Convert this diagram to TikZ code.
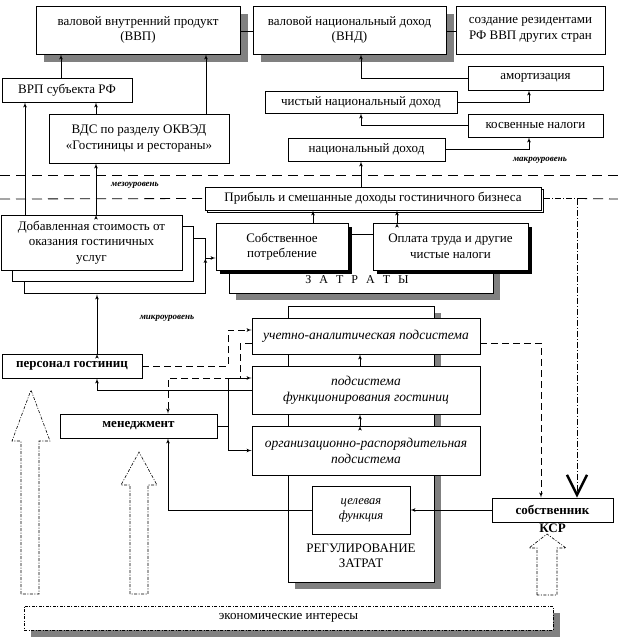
\documentclass[tikz,border=0pt]{standalone}
\usepackage{fontspec}
\setmainfont{Liberation Serif}
\usepackage{tikz}
\usetikzlibrary{arrows, arrows.meta, positioning, shapes, shadows}

\tikzset{
  box/.style={draw, fill=white, line width=0.8pt, inner sep=1pt, align=center},
  gshadow/.style={drop shadow={shadow xshift=#1, shadow yshift=-#1, fill=gray, opacity=1}},
  bshadow/.style={drop shadow={shadow xshift=4pt, shadow yshift=-4pt, fill=black, opacity=1}},
  lshadow/.style={copy shadow={shadow xshift=#1, shadow yshift=-#1, draw, fill=white}},
  txt/.style={font=\fontsize{13}{15.5}\selectfont},
  boldtxt/.style={font=\fontsize{13}{15.5}\selectfont\bfseries},
  ital/.style={font=\fontsize{13.5}{16}\selectfont\itshape},
  lvl/.style={font=\fontsize{9}{11}\selectfont\bfseries\itshape},
  arr/.style={draw, -latex', line width=0.7pt},
  dasharr/.style={arr, dash pattern=on 7pt off 4pt},
  levelline/.style={draw, line width=0.8pt, dash pattern=on 10pt off 6pt},
  finedash/.style={draw, line width=0.6pt, dash pattern=on 3pt off 1.5pt on 1pt off 1.5pt},
}

\begin{document}
\begin{tikzpicture}[x=1pt, y=-1pt]
\useasboundingbox (0,0) rectangle (618,643);

% frames behind
\node [box, minimum width=264pt, minimum height=59pt, gshadow=7pt] (zframe) at (361,263.5) {};
\node [font=\fontsize{12}{14}\selectfont] (zattxt) at (357,280) {\spaceskip=8pt\relax З А Т Р А Т Ы};
\node [box, minimum width=146pt, minimum height=276pt, gshadow=7pt] (rframe) at (361,444) {};
\node [txt, align=center] (regtxt) at (361,556) {РЕГУЛИРОВАНИЕ\\ЗАТРАТ};

% macro level
\node [box, txt, minimum width=204pt, minimum height=48pt, gshadow=8pt] (vvp) at (138,30) {валовой внутренний продукт\\(ВВП)};
\node [box, txt, minimum width=193pt, minimum height=48pt, gshadow=8pt] (vnd) at (349.5,30) {валовой национальный доход\\(ВНД)};
\node [box, txt, minimum width=149pt, minimum height=48pt] (rez) at (530.5,30) {создание резидентами\\РФ ВВП других стран};
\node [box, txt, minimum width=130pt, minimum height=24pt] (vrp) at (67,90) {ВРП субъекта РФ};
\node [box, txt, minimum width=180pt, minimum height=49pt] (vds) at (139,138.5) {ВДС по разделу ОКВЭД\\«Гостиницы и рестораны»};
\node [box, txt, minimum width=135pt, minimum height=24pt] (amort) at (535.5,78) {амортизация};
\node [box, txt, minimum width=192pt, minimum height=22pt] (chnd) at (361,102) {чистый национальный доход};
\node [box, txt, minimum width=135pt, minimum height=23pt] (kosv) at (535.5,125.5) {косвенные налоги};
\node [box, txt, minimum width=157pt, minimum height=23pt] (nd) at (366.5,149.5) {национальный доход};
\node [lvl] (makro) at (540,160) {макроуровень};

% meso level
\node [lvl] (mezo) at (135,185) {мезоуровень};
\node [box, txt, minimum width=336pt, minimum height=23pt, lshadow=2.5pt] (prib) at (373,198.5) {Прибыль и смешанные доходы гостиничного бизнеса};
\node [box, txt, minimum width=181pt, minimum height=55pt, lshadow=23pt, lshadow=11pt] (dob) at (91.5,242.5) {Добавленная стоимость от\\оказания гостиничных\\услуг};
\node [box, txt, minimum width=132pt, minimum height=47pt, bshadow] (sobst) at (282,246.5) {Собственное\\потребление};
\node [box, txt, minimum width=155pt, minimum height=47pt, bshadow] (oplata) at (450.5,246.5) {Оплата труда и другие\\чистые налоги};

% micro level
\node [lvl] (mikro) at (167,318) {микроуровень};
\node [box, ital, minimum width=228pt, minimum height=36pt] (uchet) at (366,336) {учетно-аналитическая подсистема};
\node [box, ital, minimum width=228pt, minimum height=48pt] (funk) at (366,390) {подсистема\\функционирования гостиниц};
\node [box, ital, minimum width=228pt, minimum height=49pt] (org) at (366,450.5) {организационно-распорядительная\\подсистема};
\node [box, boldtxt, minimum width=140pt, minimum height=24pt] (pers) at (72,366) {персонал гостиниц};
\node [box, boldtxt, minimum width=157pt, minimum height=24pt] (men) at (138.5,426) {менеджмент};
\node [box, ital, font=\fontsize{12.5}{15}\selectfont\itshape, minimum width=98pt, minimum height=48pt] (cel) at (361,510) {целевая\\функция};
\node [box, boldtxt, minimum width=121pt, minimum height=24pt] (sob) at (552.5,510) {собственник};
\node [boldtxt] (ksr) at (552.5,528) {КСР};
\node [box, txt, finedash, minimum width=529pt, minimum height=24pt, gshadow=7pt] (econ) at (288.5,618) {экономические интересы};

% open arrows of the interests
\draw [finedash] (21,594) -- (21,441) -- (12,441) -- (31,390) -- (50,441) -- (39,441) -- (39,594) -- cycle;
\draw [finedash] (130,594) -- (130,485) -- (121,485) -- (139,452) -- (157,485) -- (148,485) -- (148,594) -- cycle;
\draw [finedash] (537,595) -- (537,548) -- (529,548) -- (547,534) -- (566,548) -- (557,548) -- (557,595) -- cycle;

% level borders
\draw [levelline] (0,175) -- (618,175);
\draw [levelline] (0,199) -- (prib.west);
\draw [levelline] ([xshift=24.5pt]sob.north |- prib.east) -- (618,199);

% connectors
\draw [line width=0.7pt] ([yshift=-1pt]vvp.east) -- ([yshift=-1pt]vvp.east -| vnd.west);
\draw [line width=0.7pt] ([yshift=-1pt]vnd.east) -- ([yshift=-1pt]vnd.east -| rez.west);
\path [arr] ([xshift=-6pt]vrp.north) edge ([xshift=-6pt]vrp.north |- vvp.south)
            ([xshift=67pt]vds.north) edge ([xshift=67pt]vds.north |- vvp.south)
            ([xshift=-43pt]vds.north) edge ([xshift=-43pt]vds.north |- vrp.south)
            ([xshift=-66.5pt]dob.north) edge ([xshift=-66.5pt]dob.north |- vrp.south)
            ([xshift=4.5pt]dob.north) edge ([xshift=4.5pt]dob.north |- vds.south);
\draw [arr] (amort.west) -| ([xshift=11.5pt]vnd.south);
\draw [arr] (chnd.east) -| ([xshift=-6.5pt]amort.south);
\draw [arr] (kosv.west) -| (chnd.south);
\draw [arr] (nd.east) -| ([xshift=-6.5pt]kosv.south);
\path [arr] ([xshift=-12pt]prib.north) edge ([xshift=-12pt]prib.north |- nd.south)
            ([xshift=31pt]sobst.north) edge ([xshift=31pt]sobst.north |- prib.south)
            ([xshift=-53.5pt]oplata.north) edge ([xshift=-53.5pt]oplata.north |- prib.south);
\path [arr] ([xshift=23pt, yshift=-15.5pt]dob.east) edge ([yshift=-15.5pt]dob.east -| sobst.west);
\path [arr] ([xshift=25pt]pers.north) edge ([xshift=25pt, yshift=-24pt]pers.north |- dob.south);
\draw [arr] (funk.west) -| ([xshift=25pt]pers.south);
\draw [dasharr] (pers.east) -| ([xshift=-23pt, yshift=6pt]uchet.west) -- ([yshift=6pt]uchet.west);
\draw [dasharr] ([yshift=-7pt]uchet.west) -| ([xshift=-11pt]uchet.west |- pers.south) -| ([xshift=29.5pt]men.north);
\draw [arr] (men.east) -| ([xshift=-23pt, yshift=12pt]funk.west) -- ([yshift=12pt]funk.west);
\draw [arr] (men.east) -| ([xshift=-23pt]org.west) -- (org.west);
\draw [arr] (cel.west) -| ([xshift=29.5pt]men.south);
\path [arr] ([xshift=-6pt]funk.north) edge ([xshift=-6pt]funk.north |- uchet.south)
            ([xshift=-6pt]org.north) edge ([xshift=-6pt]org.north |- funk.south);
\draw [arr] (sob.west) -- (sob.west -| cel.east);
\draw [dasharr] ([yshift=-7pt]uchet.east) -| ([xshift=-11.5pt]sob.north);
\draw [line width=0.6pt, dash pattern=on 6pt off 2pt on 1pt off 2pt, -{Straight Barb[length=20pt, width=20pt, line width=2.5pt]}] ([xshift=3pt]prib.east) -| ([xshift=24.5pt]sob.north);

\end{tikzpicture}
\end{document}
